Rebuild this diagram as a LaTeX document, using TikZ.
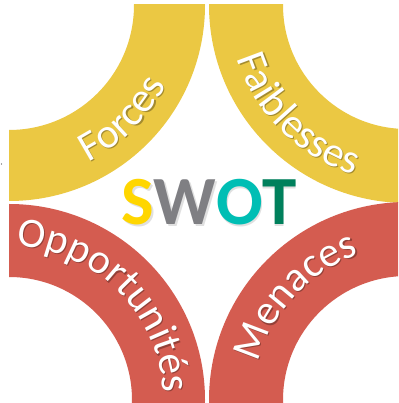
\documentclass[tikz,border=0pt]{standalone}
\usepackage{fontspec}
\setmainfont{Carlito}
\usetikzlibrary{decorations.text}
\definecolor{bandyellow}{RGB}{235,200,67}
\definecolor{bandred}{RGB}{212,92,80}
\definecolor{swS}{RGB}{255,214,0}
\definecolor{swW}{RGB}{127,127,131}
\definecolor{swO}{RGB}{0,190,180}
\definecolor{swT}{RGB}{0,128,92}
\newcommand\swlabfont{\fontsize{42}{50}\selectfont}
\newcommand\swarclabel[5]{%
  \begin{scope}[opacity=0.3]
    \path[decorate, decoration={text along path, text={|\swlabfont|#5}, text align=center, text color=black}]
      ([shift={(#3:#2)}]#1) ++(1.2,-1.2) arc[start angle=#3, end angle=#4, radius=#2];
  \end{scope}
  \path[decorate, decoration={text along path, text={|\swlabfont|#5}, text align=center, text color=white}]
    ([shift={(#3:#2)}]#1) arc[start angle=#3, end angle=#4, radius=#2];
}
\begin{document}
\begin{tikzpicture}[x=1pt,y=1pt,
  band/.style={even odd rule},
  swotletters/.style={font=\fontsize{69}{80}\selectfont\bfseries, anchor=base, inner sep=0pt}]
\useasboundingbox (0,0) rectangle (398,403);
\fill[white] (0,0) rectangle (398,403);
\begin{scope}
  \clip (9,0) rectangle (398,398);
  \fill[bandyellow, band] (9,398) circle[radius=196] (9,398) circle[radius=125];
  \fill[bandyellow, band] (407,398) circle[radius=198] (407,398) circle[radius=124];
  \fill[bandred, band] (9,3) circle[radius=196] (9,3) circle[radius=123];
  \fill[bandred, band] (407,3) circle[radius=198] (407,3) circle[radius=124];
\end{scope}
\fill[black!70] (1.5,239) circle[radius=0.7];
\swarclabel{9,398}{176}{-95}{5}{Forces}
\swarclabel{407,398}{178}{-185}{-85}{Faiblesses}
\swarclabel{9,3}{154}{100}{-10}{Opportunités}
\swarclabel{407,3}{153}{192}{82}{Menaces}
\node[swotletters, text=black, opacity=0.12] (swotshadow) at (210.2,176.8) {{S}{W}{O}{T}};
\node[swotletters] (swot) at (209,178) {\textcolor{swS}{S}\textcolor{swW}{W}\textcolor{swO}{O}\textcolor{swT}{T}};
\end{tikzpicture}
\end{document}
